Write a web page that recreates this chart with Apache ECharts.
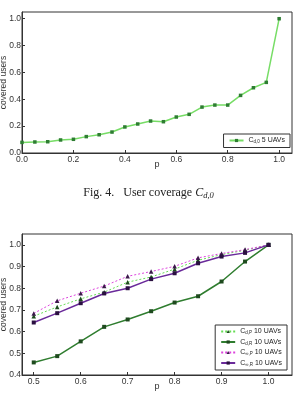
<!DOCTYPE html>
<html lang="en">
<head>
    <meta charset="UTF-8">
    <title>User coverage</title>
    <style>
        body,html{ margin:0; padding:0; background:#fff; }
    </style>
</head>
<body>
<div id="main" style="width:297px;height:394px;"></div>
<script src="https://cdn.jsdelivr.net/npm/echarts@6/dist/echarts.min.js"></script>
<script>
    // top chart: C_d,0 with 5 UAVs
    var pTop = [0, 0.05, 0.1, 0.15, 0.2, 0.25, 0.3, 0.35, 0.4, 0.45, 0.5, 0.55, 0.6, 0.65, 0.7, 0.75, 0.8, 0.85, 0.9, 0.95, 1.0];
    var cd0 = [0.079, 0.082, 0.084, 0.097, 0.102, 0.122, 0.136, 0.156, 0.194, 0.216, 0.238, 0.233, 0.268, 0.288, 0.342, 0.357, 0.357, 0.429, 0.486, 0.526, 1.0];
    var topXTicks = [0, 0.2, 0.4, 0.6, 0.8, 1.0];
    var topYTicks = [0, 0.2, 0.4, 0.6, 0.8, 1.0];

    // bottom chart: 10 UAVs
    var pBot = [0.5, 0.55, 0.6, 0.65, 0.7, 0.75, 0.8, 0.85, 0.9, 0.95, 1.0];
    var cdP = [0.671, 0.714, 0.751, 0.782, 0.828, 0.852, 0.888, 0.929, 0.955, 0.975, 1.0];
    var cdR = [0.458, 0.487, 0.555, 0.622, 0.656, 0.694, 0.734, 0.763, 0.831, 0.923, 1.0];
    var cinfP = [0.684, 0.742, 0.777, 0.810, 0.855, 0.877, 0.901, 0.940, 0.960, 0.978, 1.0];
    var cinfR = [0.642, 0.685, 0.731, 0.776, 0.800, 0.842, 0.869, 0.915, 0.946, 0.963, 1.0];
    var botXTicks = [0.5, 0.6, 0.7, 0.8, 0.9, 1.0];
    var botYTicks = [0.4, 0.5, 0.6, 0.7, 0.8, 0.9, 1.0];

    function pairs(xs, ys) {
        return xs.map(function (x, i) { return [x, ys[i]]; });
    }
    var fmt = function (v) { return v.toFixed(1); };
    var labelStyle = { color: '#333', fontSize: 8.5, fontFamily: 'Liberation Sans', formatter: fmt, margin: 1 };

    function xAxis(grid, min, max, ticks) {
        return {
            type: 'value', gridIndex: grid, min: min, max: max,
            name: 'p', nameLocation: 'middle', nameGap: 7, nameMoveOverlap: false,
            nameTextStyle: { color: '#333', fontSize: 9, fontFamily: 'Liberation Sans', verticalAlign: 'top' },
            axisLine: { show: true, lineStyle: { color: '#333', width: 1 } },
            axisTick: { show: true, inside: true, length: 3, customValues: ticks, lineStyle: { color: '#333' } },
            axisLabel: Object.assign({ customValues: ticks }, labelStyle, { margin: 2 }),
            splitLine: { show: false }
        };
    }
    function yAxis(grid, min, max, ticks) {
        return {
            type: 'value', gridIndex: grid, min: min, max: max,
            name: 'covered users', nameLocation: 'middle', nameGap: 13.5, nameMoveOverlap: false,
            nameTextStyle: { color: '#333', fontSize: 8.5, fontFamily: 'Liberation Sans' },
            axisLine: { show: true, lineStyle: { color: '#333', width: 1 } },
            axisTick: { show: true, inside: true, length: 3, customValues: ticks, lineStyle: { color: '#333' } },
            axisLabel: Object.assign({ customValues: ticks }, labelStyle),
            splitLine: { show: false }
        };
    }
    var rich = {
        c: { fontSize: 7, fontFamily: 'Liberation Sans', color: '#222' },
        s: { fontSize: 4.5, fontFamily: 'Liberation Sans', color: '#222', verticalAlign: 'bottom', padding: [3, 0, 0, 0] }
    };
    function legendFmt(name) {
        var m = name.match(/^C_(\S+) (.*)$/);
        return '{c|C}{s|' + m[1] + '}{c| ' + m[2] + '}';
    }

    var myChart = echarts.init(document.getElementById('main'));
    myChart.setOption({
        animation: false,
        grid: [
            { left: 22, right: 5, top: 12, height: 141, show: true, borderColor: '#333', borderWidth: 1, containLabel: false, outerBoundsMode: 'none' },
            { left: 22, right: 5, top: 234, height: 141, show: true, borderColor: '#333', borderWidth: 1, containLabel: false, outerBoundsMode: 'none' }
        ],
        xAxis: [xAxis(0, 0, 1.05, topXTicks), xAxis(1, 0.475, 1.05, botXTicks)],
        yAxis: [yAxis(0, 0, 1.05, topYTicks), yAxis(1, 0.4, 1.05, botYTicks)],
        legend: [
            {
                data: ['C_d,0 5 UAVs'], right: 7, top: 134, orient: 'vertical',
                itemWidth: 14, itemHeight: 4, padding: [3, 5, 3, 5],
                borderColor: '#333', borderWidth: 1, borderRadius: 0,
                formatter: legendFmt, textStyle: { rich: rich }
            },
            {
                data: ['C_d,P 10 UAVs', 'C_d,R 10 UAVs', 'C_∞,P 10 UAVs', 'C_∞,R 10 UAVs'],
                right: 10, top: 325, orient: 'vertical', itemGap: 3,
                itemWidth: 14, itemHeight: 4, padding: [3, 5, 3, 5],
                borderColor: '#333', borderWidth: 1, borderRadius: 0,
                formatter: legendFmt, textStyle: { rich: rich }
            }
        ],
        graphic: [{
            type: 'text', left: 'center', top: 187,
            style: {
                text: '{a|Fig. 4.   User coverage }{b|C}{d|d,0}',
                rich: {
                    a: { fontFamily: 'Liberation Serif', fontSize: 12, fill: '#222' },
                    b: { fontFamily: 'Liberation Serif', fontStyle: 'italic', fontSize: 12, fill: '#222' },
                    d: { fontFamily: 'Liberation Serif', fontStyle: 'italic', fontSize: 8.5, fill: '#222', padding: [5, 0, 0, 0] }
                }
            }
        }],
        series: [
            {
                name: 'C_d,0 5 UAVs', type: 'line', xAxisIndex: 0, yAxisIndex: 0,
                data: pairs(pTop, cd0), symbol: 'rect', symbolSize: 3.5,
                lineStyle: { color: '#77dd66', width: 1.5 },
                itemStyle: { color: '#2e7d32' }
            },
            {
                name: 'C_d,P 10 UAVs', type: 'line', xAxisIndex: 1, yAxisIndex: 1,
                data: pairs(pBot, cdP), symbol: 'triangle', symbolSize: 4.5,
                lineStyle: { color: '#66dd55', width: 1, type: [2, 2] },
                itemStyle: { color: '#1e4a1e' }
            },
            {
                name: 'C_d,R 10 UAVs', type: 'line', xAxisIndex: 1, yAxisIndex: 1,
                data: pairs(pBot, cdR), symbol: 'rect', symbolSize: 4,
                lineStyle: { color: '#2f7d2f', width: 1.5 },
                itemStyle: { color: '#1e4a1e' }
            },
            {
                name: 'C_∞,P 10 UAVs', type: 'line', xAxisIndex: 1, yAxisIndex: 1,
                data: pairs(pBot, cinfP), symbol: 'triangle', symbolSize: 4.5,
                lineStyle: { color: '#dd44dd', width: 1, type: [2, 2] },
                itemStyle: { color: '#3a1a4a' }
            },
            {
                name: 'C_∞,R 10 UAVs', type: 'line', xAxisIndex: 1, yAxisIndex: 1,
                data: pairs(pBot, cinfR), symbol: 'rect', symbolSize: 4,
                lineStyle: { color: '#6a2a9a', width: 1.5 },
                itemStyle: { color: '#2a1040' }
            }
        ]
    });
</script>
</body>
</html>
